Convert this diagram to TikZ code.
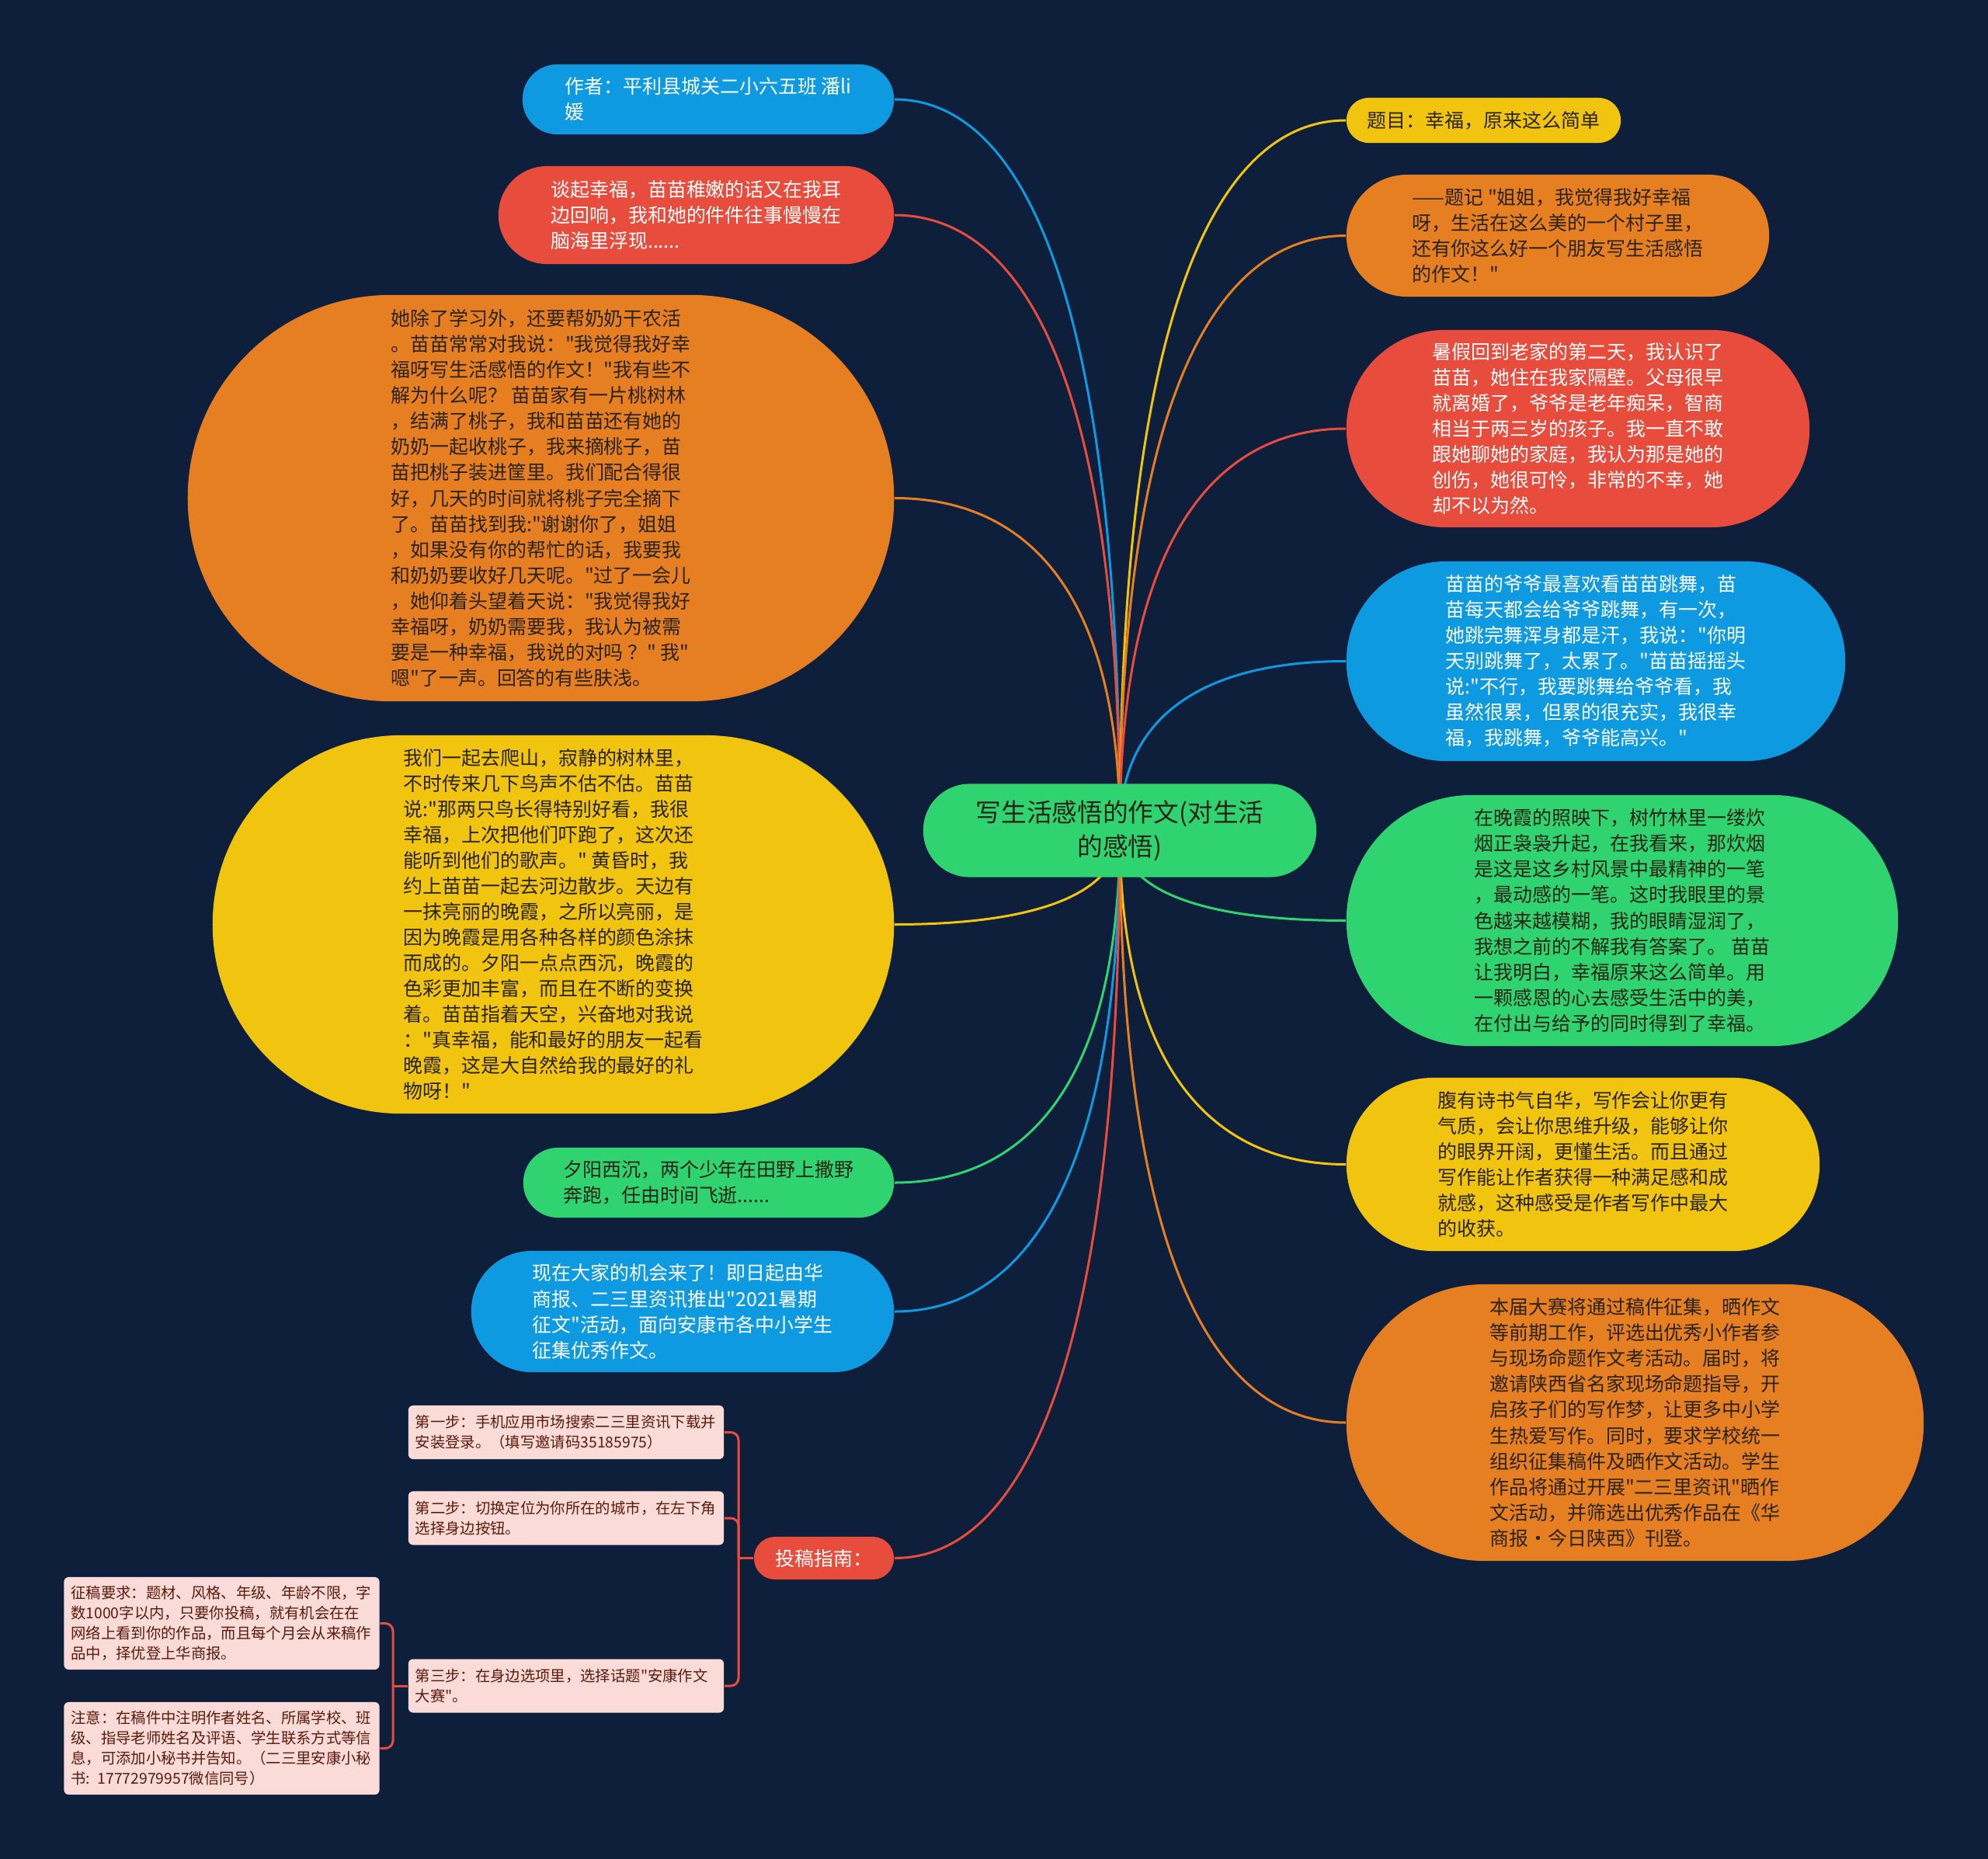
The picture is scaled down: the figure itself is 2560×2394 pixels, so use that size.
\documentclass[tikz,border=0pt]{standalone}
\usepackage{fontspec}
\setmainfont[Ligatures=TeXOff]{Noto Sans CJK SC}
\usetikzlibrary{calc,backgrounds}
\definecolor{bg}{HTML}{0E1F3C}
\definecolor{cblue}{HTML}{0D9AE0}
\definecolor{cred}{HTML}{E74C3C}
\definecolor{corange}{HTML}{E67E22}
\definecolor{cyellow}{HTML}{F1C40F}
\definecolor{cgreen}{HTML}{2FD36F}
\definecolor{cpink}{HTML}{FADBD8}
\definecolor{cpinktext}{HTML}{5C1A0B}
\definecolor{cdark}{HTML}{2A2418}
\tikzset{
  pill/.style={rectangle, inner sep=0pt, align=left, font=\fontsize{7.1}{9.4}\selectfont},
  darktext/.style={text=cdark},
  lighttext/.style={text=white},
  pinkbox/.style={rectangle, fill=cpink, text=cpinktext, rounded corners=0.06cm, text width=3.88cm, align=left, inner xsep=0.09cm, inner ysep=0pt, font=\fontsize{5.5}{7.4}\selectfont},
  link/.style={line width=0.03cm},
  bracket/.style={line width=0.03cm, draw=cred, rounded corners=0.1cm},
}
\newcommand\linkto[3]{%
  \draw[link,draw=#3] let \p1=(#1), \p2=(#2) in (\p1) .. controls (\x1,{\y1+0.75*(\y2-\y1)}) and ({\x2+0.55*(\x1-\x2)},\y2) .. (\p2);}
\begin{document}
\begin{tikzpicture}[x=0.01cm,y=-0.01cm]
\useasboundingbox (0,0) rectangle (2560,2394);

% center
\node[pill, fill=cgreen, darktext, align=center, font=\fontsize{9.3}{12.5}\selectfont, minimum width=5.06cm, minimum height=1.20cm, rounded corners=0.595cm] (n0) at (1442,1069.5) {写生活感悟的作文(对生活\\的感悟)};

% left
\node[pill, fill=cblue, lighttext, minimum width=4.78cm, minimum height=0.9cm, rounded corners=0.445cm] (n1) at (912,128) {作者：平利县城关二小六五班 潘li\\媛};
\node[pill, fill=cred, lighttext, minimum width=5.09cm, minimum height=1.26cm, rounded corners=0.625cm] (n2) at (896.5,277) {谈起幸福，苗苗稚嫩的话又在我耳\\边回响，我和她的件件往事慢慢在\\脑海里浮现......};
\node[pill, fill=corange, darktext, minimum width=9.09cm, minimum height=5.23cm, rounded corners=2.61cm] (n3) at (696.5,641.5) {她除了学习外，还要帮奶奶干农活\\。苗苗常常对我说："我觉得我好幸\\福呀写生活感悟的作文！"我有些不\\解为什么呢？ 苗苗家有一片桃树林\\，结满了桃子，我和苗苗还有她的\\奶奶一起收桃子，我来摘桃子，苗\\苗把桃子装进筐里。我们配合得很\\好，几天的时间就将桃子完全摘下\\了。苗苗找到我:"谢谢你了，姐姐\\，如果没有你的帮忙的话，我要我\\和奶奶要收好几天呢。"过了一会儿\\，她仰着头望着天说："我觉得我好\\幸福呀，奶奶需要我，我认为被需\\要是一种幸福，我说的对吗 ？" 我"\\嗯"了一声。回答的有些肤浅。};
\node[pill, fill=cyellow, darktext, minimum width=8.77cm, minimum height=4.87cm, rounded corners=2.43cm] (n4) at (712.5,1190.5) {我们一起去爬山，寂静的树林里，\\不时传来几下鸟声不估不估。苗苗\\说:"那两只鸟长得特别好看，我很\\幸福，上次把他们吓跑了，这次还\\能听到他们的歌声。" 黄昏时，我\\约上苗苗一起去河边散步。天边有\\一抹亮丽的晚霞，之所以亮丽，是\\因为晚霞是用各种各样的颜色涂抹\\而成的。夕阳一点点西沉，晚霞的\\色彩更加丰富，而且在不断的变换\\着。苗苗指着天空，兴奋地对我说\\："真幸福，能和最好的朋友一起看\\晚霞，这是大自然给我的最好的礼\\物呀！"};
\node[pill, fill=cgreen, darktext, minimum width=4.77cm, minimum height=0.9cm, rounded corners=0.445cm] (n5) at (912.5,1523) {夕阳西沉，两个少年在田野上撒野\\奔跑，任由时间飞逝......};
\node[pill, fill=cblue, lighttext, minimum width=5.44cm, minimum height=1.56cm, rounded corners=0.775cm] (n6) at (879,1689) {现在大家的机会来了！即日起由华\\商报、二三里资讯推出"2021暑期\\征文"活动，面向安康市各中小学生\\征集优秀作文。};
\node[pill, fill=cred, lighttext, minimum width=1.80cm, minimum height=0.55cm, rounded corners=0.27cm] (n7) at (1061,2006.5) {投稿指南：};

% pink sub nodes
\node[pinkbox, minimum height=0.69cm] (a) at (729,1844.5) {第一步：手机应用市场搜索二三里资讯下载并\\安装登录。（填写邀请码35185975）};
\node[pinkbox, minimum height=0.69cm] (b) at (729,1955) {第二步：切换定位为你所在的城市，在左下角\\选择身边按钮。};
\node[pinkbox, minimum height=0.69cm] (c) at (729,2171) {第三步：在身边选项里，选择话题"安康作文\\大赛"。};
\node[pinkbox, minimum height=1.19cm] (d) at (285.5,2090.5) {征稿要求：题材、风格、年级、年龄不限，字\\数1000字以内，只要你投稿，就有机会在在\\网络上看到你的作品，而且每个月会从来稿作\\品中，择优登上华商报。};
\node[pinkbox, minimum height=1.19cm] (e) at (285.5,2251.5) {注意：在稿件中注明作者姓名、所属学校、班\\级、指导老师姓名及评语、学生联系方式等信\\息，可添加小秘书并告知。（二三里安康小秘\\书: 17772979957微信同号）};

% right
\node[pill, fill=cyellow, darktext, minimum width=3.53cm, minimum height=0.58cm, rounded corners=0.285cm] (n8) at (1910.5,155) {题目：幸福，原来这么简单};
\node[pill, fill=corange, darktext, minimum width=5.44cm, minimum height=1.57cm, rounded corners=0.78cm] (n9) at (2006,303.5) {——题记 "姐姐，我觉得我好幸福\\呀，生活在这么美的一个村子里，\\还有你这么好一个朋友写生活感悟\\的作文！"};
\node[pill, fill=cred, lighttext, minimum width=5.96cm, minimum height=2.54cm, rounded corners=1.265cm] (n10) at (2032,552) {暑假回到老家的第二天，我认识了\\苗苗，她住在我家隔壁。父母很早\\就离婚了，爷爷是老年痴呆，智商\\相当于两三岁的孩子。我一直不敢\\跟她聊她的家庭，我认为那是她的\\创伤，她很可怜，非常的不幸，她\\却不以为然。};
\node[pill, fill=cblue, lighttext, minimum width=6.42cm, minimum height=2.57cm, rounded corners=1.28cm] (n11) at (2055,851.5) {苗苗的爷爷最喜欢看苗苗跳舞，苗\\苗每天都会给爷爷跳舞，有一次，\\她跳完舞浑身都是汗，我说："你明\\天别跳舞了，太累了。"苗苗摇摇头\\说:"不行，我要跳舞给爷爷看，我\\虽然很累，但累的很充实，我很幸\\福，我跳舞，爷爷能高兴。"};
\node[pill, fill=cgreen, darktext, minimum width=7.10cm, minimum height=3.23cm, rounded corners=1.61cm] (n12) at (2089,1185.5) {在晚霞的照映下，树竹林里一缕炊\\烟正袅袅升起，在我看来，那炊烟\\是这是这乡村风景中最精神的一笔\\，最动感的一笔。这时我眼里的景\\色越来越模糊，我的眼睛湿润了，\\我想之前的不解我有答案了。 苗苗\\让我明白，幸福原来这么简单。用\\一颗感恩的心去感受生活中的美，\\在付出与给予的同时得到了幸福。};
\node[pill, fill=cyellow, darktext, minimum width=6.09cm, minimum height=2.23cm, rounded corners=1.11cm] (n13) at (2038.5,1499.5) {腹有诗书气自华，写作会让你更有\\气质，会让你思维升级，能够让你\\的眼界开阔，更懂生活。而且通过\\写作能让作者获得一种满足感和成\\就感，这种感受是作者写作中最大\\的收获。};
\node[pill, fill=corange, darktext, minimum width=7.43cm, minimum height=3.56cm, rounded corners=1.775cm] (n14) at (2105.5,1832) {本届大赛将通过稿件征集，晒作文\\等前期工作，评选出优秀小作者参\\与现场命题作文考活动。届时，将\\邀请陕西省名家现场命题指导，开\\启孩子们的写作梦，让更多中小学\\生热爱写作。同时，要求学校统一\\组织征集稿件及晒作文活动。学生\\作品将通过开展"二三里资讯"晒作\\文活动，并筛选出优秀作品在《华\\商报·今日陕西》刊登。};

\coordinate (j1) at (951,2006.5);
\coordinate (j2) at (506,2171);

\begin{scope}[on background layer]
\fill[bg] (0,0) rectangle (2560,2394);
\linkto{n0.center}{n1.east}{cblue}
\linkto{n0.center}{n2.east}{cred}
\linkto{n0.center}{n3.east}{corange}
\linkto{n0.center}{n4.east}{cyellow}
\linkto{n0.center}{n5.east}{cgreen}
\linkto{n0.center}{n6.east}{cblue}
\linkto{n0.center}{n7.east}{cred}
\linkto{n0.center}{n8.west}{cyellow}
\linkto{n0.center}{n9.west}{corange}
\linkto{n0.center}{n10.west}{cred}
\linkto{n0.center}{n11.west}{cblue}
\linkto{n0.center}{n12.west}{cgreen}
\linkto{n0.center}{n13.west}{cyellow}
\linkto{n0.center}{n14.west}{corange}
\draw[bracket] (n7.west) -- (j1);
\draw[bracket] (j1) |- (a.east);
\draw[bracket] (j1) |- (b.east);
\draw[bracket] (j1) |- (c.east);
\draw[bracket] (c.west) -- (j2);
\draw[bracket] (j2) |- (d.east);
\draw[bracket] (j2) |- (e.east);
\end{scope}
\end{tikzpicture}
\end{document}
